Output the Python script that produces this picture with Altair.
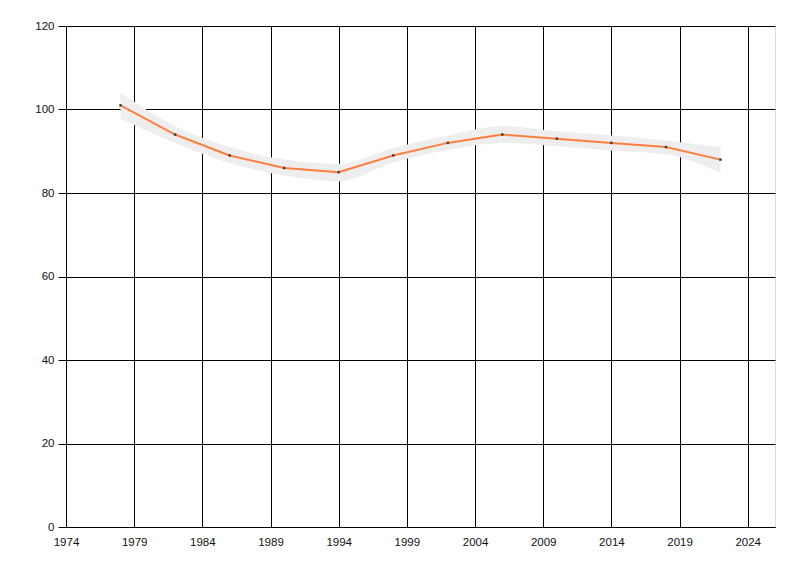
import altair as alt
import pandas as pd

years = [1978, 1982, 1986, 1990, 1994, 1998, 2002, 2006, 2010, 2014, 2018, 2022]
values = [101, 94, 89, 86, 85, 89, 92, 94, 93, 92, 91, 88]
lower = [97.8, 92.0, 87.2, 84.2, 82.8, 87.3, 90.3, 92.0, 91.2, 90.2, 89.3, 84.8]
upper = [104.0, 96.0, 91.0, 88.0, 87.0, 90.8, 93.8, 96.0, 94.8, 93.8, 92.6, 91.0]
x_ticks = [1974, 1979, 1984, 1989, 1994, 1999, 2004, 2009, 2014, 2019, 2024]
y_ticks = [0, 20, 40, 60, 80, 100, 120]

df = pd.DataFrame({"year": years, "value": values, "lo": lower, "hi": upper})

FONT = "Liberation Sans"

xscale = alt.Scale(domain=[1974, 2026], nice=False, zero=False)
yscale = alt.Scale(domain=[0, 120], nice=False)

xaxis = alt.Axis(values=x_ticks, format="d", title=None, grid=True, gridColor="black",
                 gridOpacity=1, gridWidth=1, domainColor="black", domainWidth=1,
                 tickSize=0, labelPadding=9, labelFont=FONT, labelFontSize=11.5,
                 labelColor="#111", labelFlush=False)
yaxis = alt.Axis(values=y_ticks, title=None, grid=True, gridColor="black",
                 gridOpacity=1, gridWidth=1, domainColor="black", domainWidth=1,
                 tickSize=8, tickColor="black", labelPadding=4, labelFont=FONT,
                 labelFontSize=11.5, labelColor="#111")

base = alt.Chart(df)

band = base.mark_area(color="#eeeeee", opacity=1, interpolate="monotone").encode(
    x=alt.X("year:Q", scale=xscale, axis=xaxis),
    y=alt.Y("lo:Q", scale=yscale, axis=yaxis),
    y2="hi:Q",
)

line = base.mark_line(color="#ff7f3f", strokeWidth=2).encode(
    x=alt.X("year:Q", scale=xscale),
    y=alt.Y("value:Q", scale=yscale),
)

pts = base.mark_square(color="#404040", size=6, opacity=1).encode(
    x=alt.X("year:Q", scale=xscale),
    y=alt.Y("value:Q", scale=yscale),
)

chart = alt.layer(band, line, pts).properties(
    width=709, height=501,
    autosize=alt.AutoSizeParams(type="none"),
    padding={"left": 58, "top": 18, "right": 10, "bottom": 30},
).configure_view(stroke=None).configure(background="white")

chart.save("out.html", embed_options={"renderer": "svg", "actions": False})
